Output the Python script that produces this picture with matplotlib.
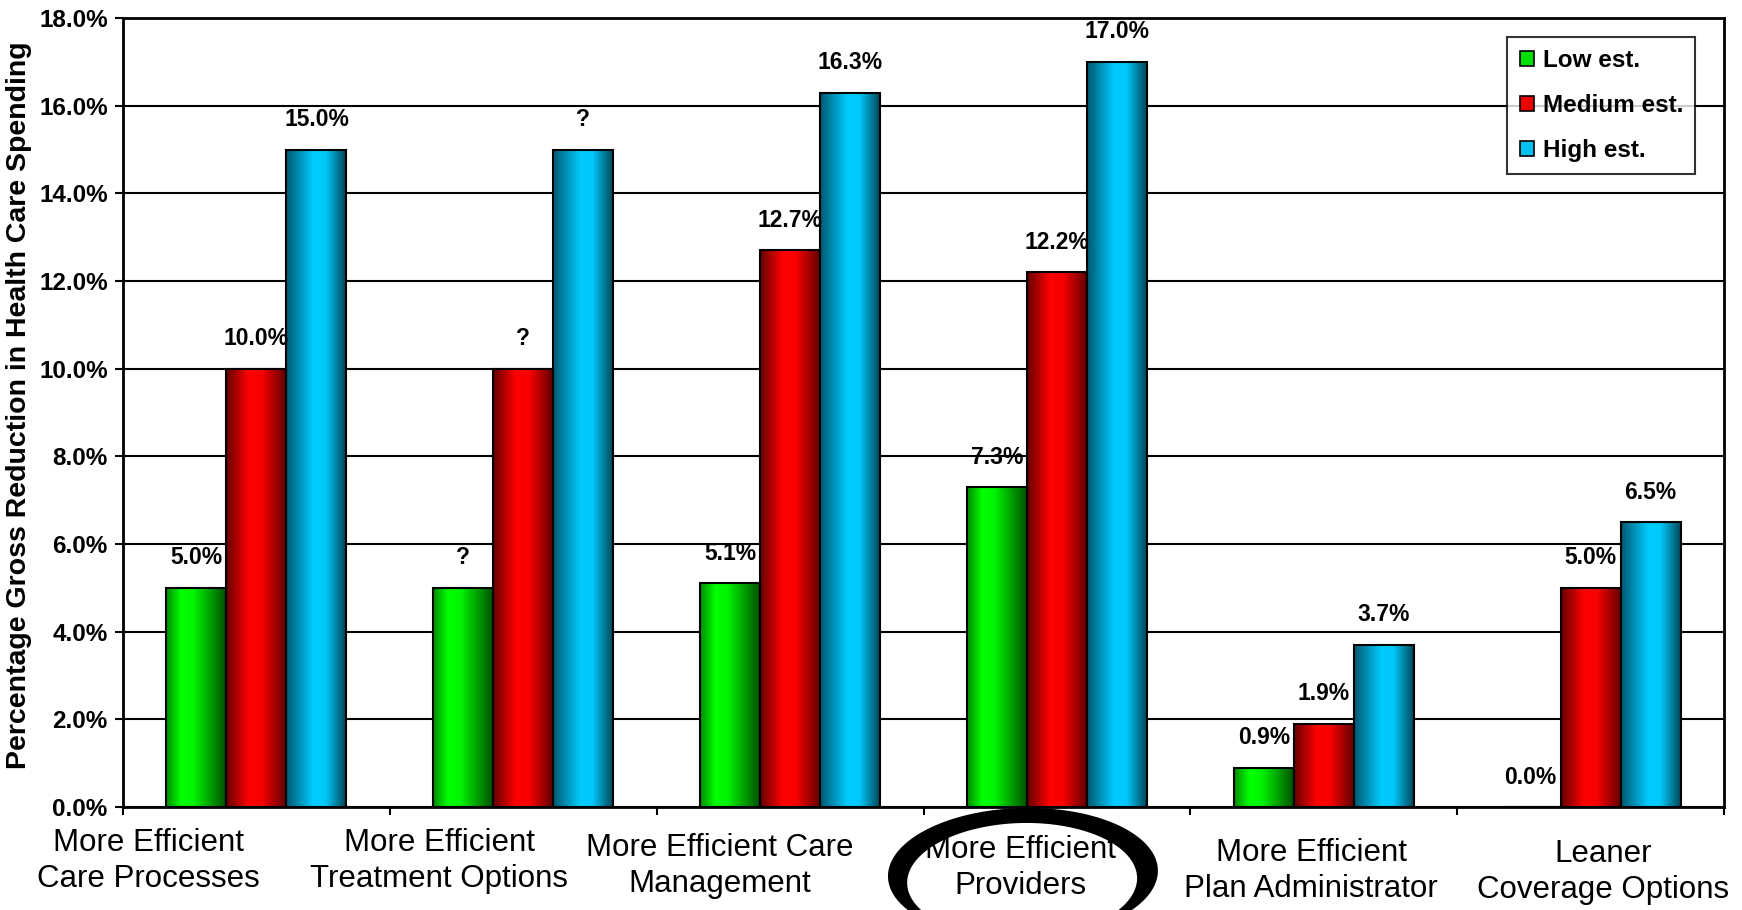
import numpy as np
import matplotlib.pyplot as plt
from matplotlib.colors import LinearSegmentedColormap
from matplotlib.patches import PathPatch
from matplotlib.path import Path
from matplotlib.transforms import Affine2D

plt.rcParams['font.family'] = ['Liberation Sans', 'DejaVu Sans']

# Estimated reduction in health care spending, by source of savings (%)
categories = ['More Efficient\nCare Processes', 'More Efficient\nTreatment Options',
              'More Efficient Care\nManagement', 'More Efficient\nProviders',
              'More Efficient\nPlan Administrator', 'Leaner\nCoverage Options']
series = ['Low est.', 'Medium est.', 'High est.']
low = [5.0, 5.0, 5.1, 7.3, 0.9, 0.0]
medium = [10.0, 10.0, 12.7, 12.2, 1.9, 5.0]
high = [15.0, 15.0, 16.3, 17.0, 3.7, 6.5]
low_labels = ['5.0%', '?', '5.1%', '7.3%', '0.9%', '0.0%']
medium_labels = ['10.0%', '?', '12.7%', '12.2%', '1.9%', '5.0%']
high_labels = ['15.0%', '?', '16.3%', '17.0%', '3.7%', '6.5%']

# shading across each bar (dark edges, bright middle)
shades = [
    [(0, '#008a00'), (0.25, '#00ff00'), (0.45, '#00f400'), (1, '#004c00')],
    [(0, '#640000'), (0.38, '#ff0000'), (0.6, '#f60000'), (1, '#5a0000')],
    [(0, '#005770'), (0.45, '#00ccff'), (0.65, '#00c8fa'), (1, '#00404f')],
]
legend_colors = ['#00e000', '#ee0000', '#00c0f0']

W, H = 1742, 910
fig = plt.figure(figsize=(W / 100, H / 100), dpi=100)
ax = fig.add_axes([123 / W, 1 - 807 / H, (1724 - 123) / W, (807 - 18) / H])
px = Affine2D().scale(1 / W, -1 / H).translate(0, 1) + fig.transFigure

x = np.arange(len(categories))
width = 0.225
grad = np.linspace(0, 1, 256).reshape(1, -1)

for i, (vals, labs) in enumerate(zip([low, medium, high],
                                     [low_labels, medium_labels, high_labels])):
    cmap = LinearSegmentedColormap.from_list(series[i], shades[i])
    pos = x + (i - 1) * width
    bars = ax.bar(pos, vals, width, color=legend_colors[i], edgecolor='none',
                  zorder=2, label=series[i])
    for b in bars:
        x0, w_, h_ = b.get_x(), b.get_width(), b.get_height()
        if h_ <= 0:
            continue
        im = ax.imshow(grad, cmap=cmap, extent=[x0, x0 + w_, 0, h_],
                       aspect='auto', zorder=3, interpolation='bilinear')
        im.set_clip_path(b)
    ax.bar(pos, vals, width, fill=False, edgecolor='black', linewidth=1.5,
           zorder=4)
    for p, v, t in zip(pos, vals, labs):
        ax.annotate(t, (p, v), xytext=(0, 21.5), textcoords='offset points',
                    ha='center', va='center', fontsize=16.5, fontweight='bold',
                    zorder=6)

ax.set_xlim(-0.5, len(categories) - 0.5)
ax.set_ylim(0, 18)
ax.set_yticks(np.arange(0, 18.1, 2))
ax.set_yticklabels(['%.1f%%' % v for v in np.arange(0, 18.1, 2)],
                   fontsize=17.5, fontweight='bold')
ax.set_xticks(np.arange(-0.5, len(categories)))
ax.set_xticklabels([])
ax.tick_params(axis='both', length=6, width=1.5, color='black')
ax.tick_params(axis='y', pad=5)
ax.yaxis.grid(True, color='black', linewidth=1.5, zorder=0)
ax.set_axisbelow(True)
for s in ax.spines.values():
    s.set_linewidth(2)
ax.set_ylabel('Percentage Gross Reduction in Health Care Spending',
              fontsize=20.5, fontweight='bold', va='center')
ax.yaxis.set_label_coords(19, 405, transform=px)

leg = ax.legend(loc='upper right', bbox_to_anchor=(0.982, 0.976),
                prop={'weight': 'bold', 'size': 17.5}, frameon=True,
                fancybox=False, edgecolor='black', handlelength=0.6,
                handleheight=0.6, handletextpad=0.35, labelspacing=0.9,
                borderpad=0.5, borderaxespad=0)
leg.get_frame().set_linewidth(1.5)
for h in leg.legend_handles:
    h.set_edgecolor('black')
    h.set_linewidth(1.2)

# category labels sit in their own text row below the axis
label_x = [148, 439, 720, 1020, 1311, 1603]
label_y = [861, 861, 866, 868, 871, 872]
for t, lx, ly in zip(categories, label_x, label_y):
    fig.text(lx, ly, t, transform=px, ha='center', va='center',
             fontsize=22.5, linespacing=1.22)

# hand-drawn ring around "More Efficient Providers"
th = np.linspace(0, 2 * np.pi, 240)
outer = np.column_stack([1023 + 135 * np.cos(th), 873.5 + 65.5 * np.sin(th)])
inner = np.column_stack([1022 + 115 * np.cos(th[::-1]), 880.5 + 57.5 * np.sin(th[::-1])])
ring = Path.make_compound_path(Path(outer, closed=True), Path(inner, closed=True))
rot = Affine2D().rotate_deg_around(1023, 876, -1.5)
fig.patches.append(PathPatch(ring, facecolor='black', edgecolor='none',
                             transform=rot + px, zorder=10))

fig.savefig('out.png', dpi=100)
